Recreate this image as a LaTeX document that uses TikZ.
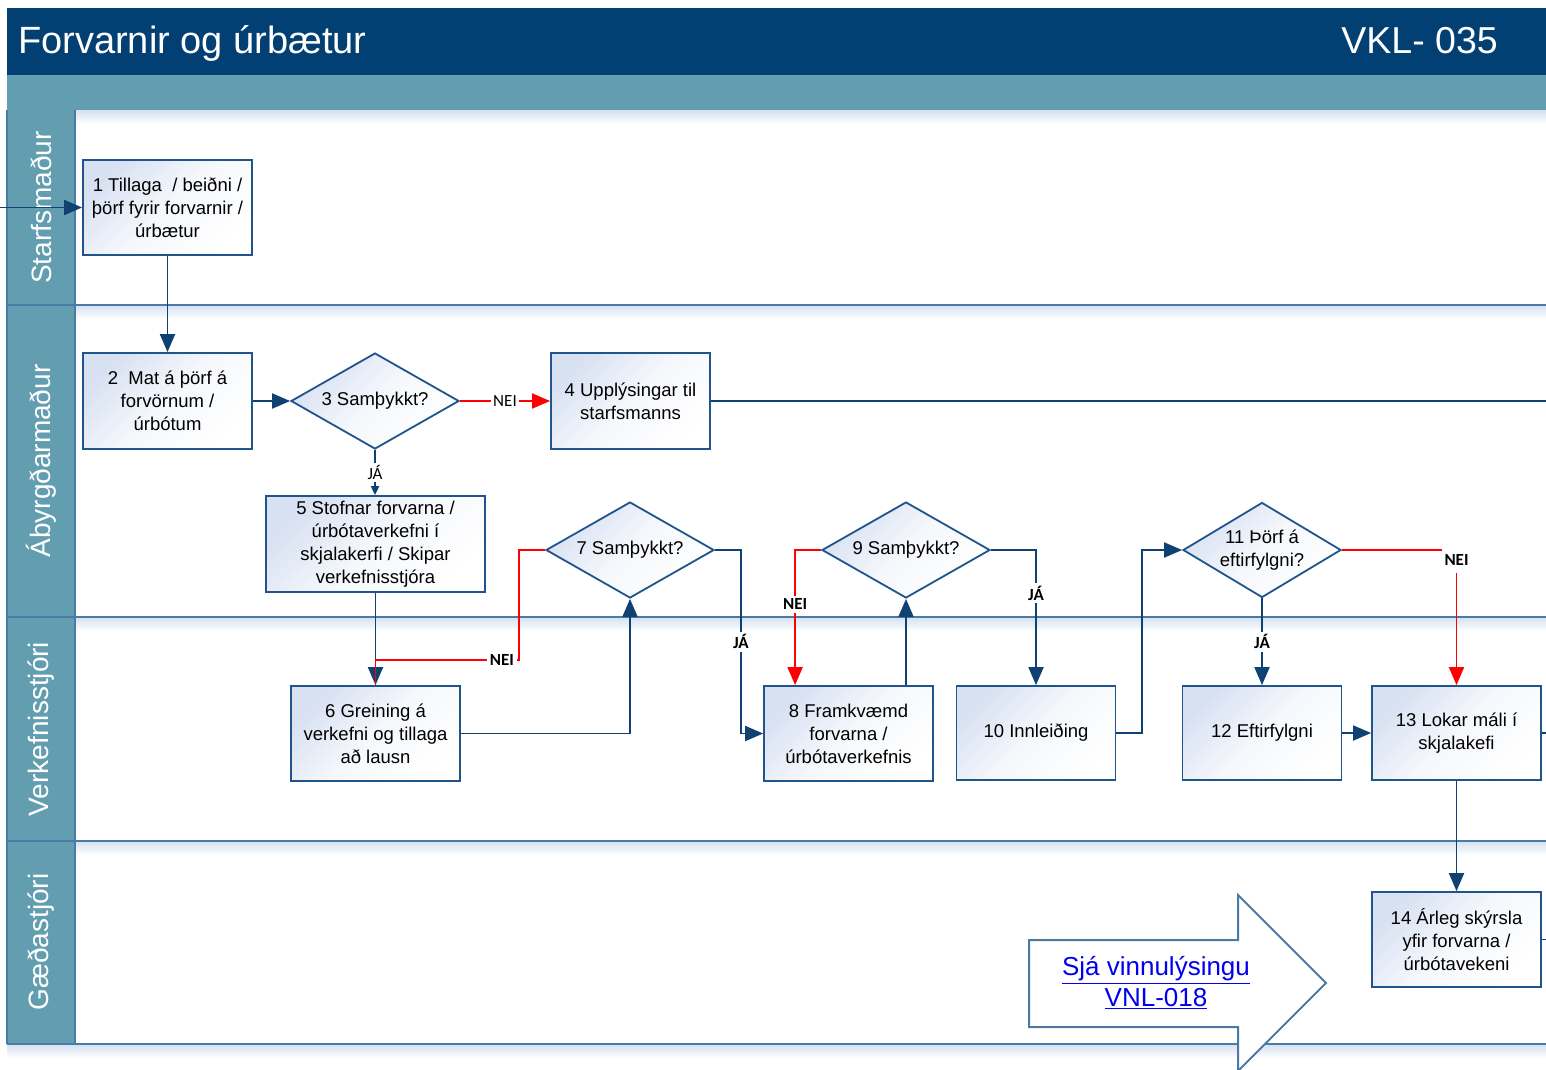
\documentclass[tikz,border=0pt]{standalone}
\usepackage{fontspec}
\setmainfont{Liberation Sans}
\newfontfamily\lblfont{Carlito}
\usetikzlibrary{arrows.meta,shapes.geometric}
\definecolor{hdr}{RGB}{2,63,115}
\definecolor{tealc}{RGB}{99,158,176}
\definecolor{lanec}{RGB}{74,122,166}
\definecolor{boxc}{RGB}{31,84,140}
\definecolor{flowc}{RGB}{15,65,115}
\definecolor{boxgrad}{RGB}{216,225,242}
\definecolor{shadowc}{RGB}{212,224,240}
\definecolor{linkblue}{RGB}{0,0,238}
\newcommand{\nodefont}{\fontsize{18.5}{23}\selectfont}
\tikzset{
  gradfill/.style={top color=boxgrad, bottom color=white, middle color=boxgrad!25!white, shading angle=45},
  stepbox/.style={draw=boxc, line width=1.8pt, gradfill, inner sep=0pt, align=center, font=\nodefont},
  decision/.style={diamond, draw=boxc, line width=1.8pt, gradfill, inner sep=0pt, minimum width=168, minimum height=96},
  dtext/.style={align=center, font=\nodefont, inner sep=0pt},
  flow/.style={draw=flowc, line width=1.9pt, -{Triangle[length=18pt,width=15pt]}},
  flowline/.style={draw=flowc, line width=1.9pt},
  noflow/.style={draw=red, line width=1.9pt, -{Triangle[length=18pt,width=15pt]}},
  noline/.style={draw=red, line width=1.9pt},
  lbl/.style={font=\lblfont\bfseries\fontsize{17}{17}\selectfont, fill=white, inner sep=3pt},
  lblr/.style={font=\lblfont\fontsize{17}{17}\selectfont, fill=white, inner sep=2pt},
  lanetxt/.style={rotate=90, text=white, font=\fontsize{28}{28}\selectfont, inner sep=0pt},
}
\begin{document}
\begin{tikzpicture}[x=1pt,y=-1pt]
\useasboundingbox (0,0) rectangle (1546,1069);
\clip (0,0) rectangle (1546,1069);
\fill[white] (0,0) rectangle (1546,1069);
% header
\fill[hdr] (7,8) rectangle (1546,75);
\fill[tealc] (7,75) rectangle (1546,110);
\shade[top color=shadowc,bottom color=white] (7,110) rectangle (1546,124);
\foreach \yy in {305,617,841,1044} {\shade[top color=shadowc,bottom color=white] (7,\yy) rectangle (1546,\yy+14);}
% lane label column
\fill[tealc] (7,110) rectangle (75,1044);
\foreach \yy in {305,617,841,1044} {\draw[lanec, line width=2pt] (7,\yy) -- (1546,\yy);}
\draw[lanec, line width=1.4pt] (75,110) -- (75,1044);
\draw[lanec, line width=1.4pt] (7,110) -- (7,1044);
% titles
\node[anchor=base west, text=white, inner sep=0pt, font=\fontsize{38}{38}\selectfont] (title) at (18,53) {Forvarnir og úrbætur};
\node[anchor=base east, text=white, inner sep=0pt, font=\fontsize{37.5}{37.5}\selectfont] (code) at (1498,53) {VKL- 035};
% lane names
\node[lanetxt] (ln1) at (41,207.5) {Starfsmaður};
\node[lanetxt] (ln2) at (41,461) {Ábyrgðarmaður};
\node[lanetxt] (ln3) at (41,729) {Verkefnisstjóri};
\node[lanetxt] (ln4) at (41,942) {Gæðastjóri};
% steps
\node[stepbox, minimum width=169, minimum height=95] (n1) at (167.5,207.5) {1 Tillaga\ \ / beiðni /\\þörf fyrir forvarnir /\\úrbætur};
\node[stepbox, minimum width=169, minimum height=96] (n2) at (167.5,401) {2\ \ Mat á þörf á\\forvörnum /\\úrbótum};
\node[decision, label={[dtext]center:3 Samþykkt?}] (n3) at (375,401) {};
\node[stepbox, minimum width=159, minimum height=96] (n4) at (630.5,401) {4 Upplýsingar til\\starfsmanns};
\node[stepbox, minimum width=219, minimum height=96] (n5) at (375.5,544) {5 Stofnar forvarna /\\úrbótaverkefni í\\skjalakerfi / Skipar\\verkefnisstjóra};
\node[decision, label={[dtext]center:7 Samþykkt?}] (n7) at (630,550) {};
\node[decision, label={[dtext]center:9 Samþykkt?}] (n9) at (906,550) {};
\node[decision, minimum width=158, minimum height=95, label={[dtext]center:11 Þörf á\\eftirfylgni?}] (n11) at (1262,550) {};
\node[stepbox, minimum width=169, minimum height=95] (n6) at (375.5,733.5) {6 Greining á\\verkefni og tillaga\\að lausn};
\node[stepbox, minimum width=169, minimum height=95] (n8) at (848.5,733.5) {8 Framkvæmd\\forvarna /\\úrbótaverkefnis};
\node[stepbox, minimum width=159, minimum height=94] (n10) at (1036,733) {10 Innleiðing};
\node[stepbox, minimum width=159, minimum height=94] (n12) at (1262,733) {12 Eftirfylgni};
\node[stepbox, minimum width=169, minimum height=94] (n13) at (1456.5,733) {13 Lokar máli í\\skjalakefi};
\node[stepbox, minimum width=169, minimum height=95] (n14) at (1456.5,939.5) {14 Árleg skýrsla\\yfir forvarna /\\úrbótavekeni};
% connectors
\coordinate (entry) at (0,207.5);
\draw[flow] (entry) -- (n1.west);
\draw[flow] (n1.south) -- (n2.north);
\draw[flow] (n2.east) -- (n3.west);
\draw[noflow] (n3.east) -- node[lblr]{NEI} (n4.west);
\draw[flow, -{Triangle[length=9pt,width=8pt]}] (n3.south) -- node[lblr]{JÁ} (n3.south |- n5.north);
\coordinate (out4) at (1546,401);
\draw[flowline] (n4.east) -- (out4);
\draw[flow] (n5.south) -- (n6.north);
\draw[flow] (n6.east) -| (n7.south);
\draw[noline] (n7.west) -- ++(-26,0) |- node[lbl,pos=0.56]{NEI} ([yshift=25pt]n6.north) -- (n6.north);
\draw[flow] (n7.east) -- ++(26,0) |- node[lbl,pos=0.25]{JÁ} (n8.west);
\draw[flow] (n9.south |- n8.north) -- (n9.south);
\draw[noflow] (n9.west) -| node[lbl,pos=0.7]{NEI} ([xshift=32pt]n8.north west);
\draw[flow] (n9.east) -| node[lbl,pos=0.66]{JÁ} (n10.north);
\draw[flow] (n10.east) -- ++(26,0) |- (n11.west);
\draw[flow] (n11.south) -- node[lbl]{JÁ} (n12.north);
\draw[noflow] (n11.east) -| node[lbl,pos=0.5,yshift=-10pt,inner ysep=7pt]{NEI} (n13.north);
\draw[flow] (n12.east) -- (n13.west);
\draw[flow] (n13.south) -- (n14.north);
\coordinate (out13) at (1546,733);
\draw[flowline] (n13.east) -- (out13);
\coordinate (out14) at (1546,939.5);
\draw[flowline] (n14.east) -- (out14);
% reference arrow
\draw[lanec, line width=2pt, fill=white] (1029,940) -- (1238,940) -- (1238,895) -- (1326,983) -- (1238,1071) -- (1238,1027) -- (1029,1027) -- cycle;
\node[align=center, text=linkblue, inner sep=0pt, font=\fontsize{26}{31}\selectfont] (link) at (1156,983) {\underline{Sjá vinnulýsingu}\\\underline{VNL-018}};
\end{tikzpicture}
\end{document}
